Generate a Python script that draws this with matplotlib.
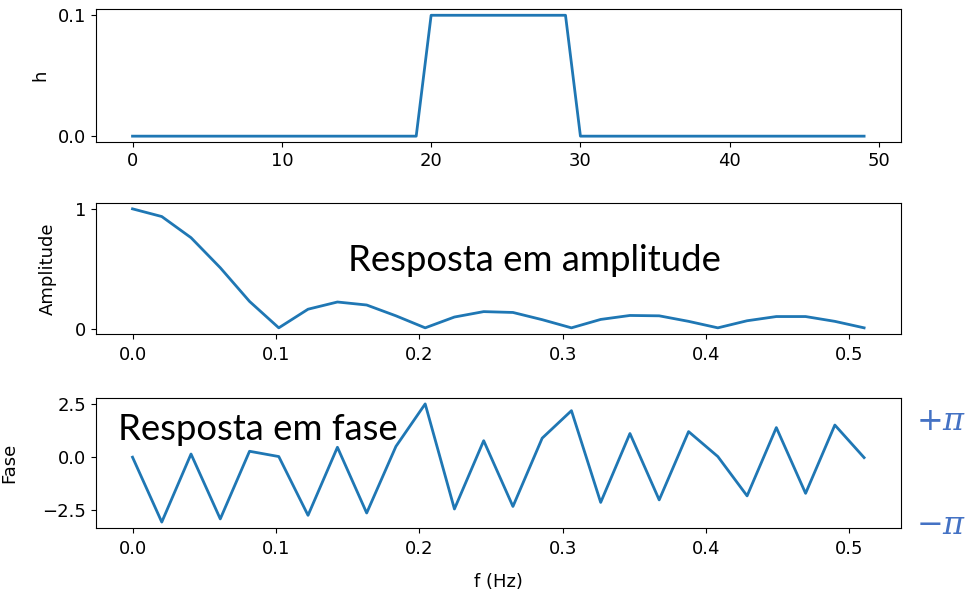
import matplotlib
matplotlib.use('Agg')
import matplotlib.pyplot as plt

# impulse response h[n]
n = list(range(50))
h = [0.0] * 20 + [0.1] * 10 + [0.0] * 20

# frequency grid (k/49, k = 0..25)
freq = [0.0, 0.0204, 0.0408, 0.0612, 0.0816, 0.1020, 0.1224, 0.1429, 0.1633,
        0.1837, 0.2041, 0.2245, 0.2449, 0.2653, 0.2857, 0.3061, 0.3265,
        0.3469, 0.3673, 0.3878, 0.4082, 0.4286, 0.4490, 0.4694, 0.4898,
        0.5102]

# amplitude response
amplitude = [1.0, 0.936, 0.76, 0.51, 0.23, 0.01, 0.165, 0.225, 0.20, 0.11,
             0.01, 0.10, 0.145, 0.138, 0.078, 0.01, 0.08, 0.113, 0.11,
             0.064, 0.01, 0.069, 0.104, 0.104, 0.064, 0.01]

# phase response
phase = [0.0, -3.07, 0.15, -2.92, 0.28, 0.03, -2.75, 0.47, -2.64, 0.51,
         2.52, -2.45, 0.78, -2.33, 0.90, 2.20, -2.14, 1.12, -2.02, 1.21,
         0.03, -1.83, 1.40, -1.71, 1.52, -0.02]

plt.rcParams['font.size'] = 13
plt.rcParams['mathtext.fontset'] = 'dejavuserif'

fig = plt.figure(figsize=(9.79, 5.95), dpi=100)
left, width = 0.098, 0.822
ax1 = fig.add_axes([left, 0.761, width, 0.2235])
ax2 = fig.add_axes([left, 0.439, width, 0.220])
ax3 = fig.add_axes([left, 0.1126, width, 0.2185])

ax1.plot(n, h, lw=2)
ax1.set_ylabel('h', labelpad=6)
ax1.set_xticks([0, 10, 20, 30, 40, 50])
ax1.set_yticks([0.0, 0.1])

ax2.plot(freq, amplitude, lw=2)
ax2.set_ylabel('Amplitude', labelpad=13)
ax2.set_yticks([0, 1])
ax2.text(0.545, 0.56, 'Resposta em amplitude', transform=ax2.transAxes,
         ha='center', va='center', fontsize=26.3, family='Lato')

ax3.plot(freq, phase, lw=2)
ax3.set_ylabel('Fase', labelpad=17)
ax3.set_xlabel('f (Hz)', labelpad=11)
ax3.set_yticks([-2.5, 0.0, 2.5])
ax3.text(0.027, 0.76, 'Resposta em fase', transform=ax3.transAxes,
         ha='left', va='center', fontsize=26.3, family='Lato')

for ax in (ax2, ax3):
    ax.set_xticks([0.0, 0.1, 0.2, 0.3, 0.4, 0.5])
    ax.tick_params(axis='x', pad=5)

# +pi / -pi marks next to the phase axis
fig.text(0.961, 1 - 421 / 595, r'$+\pi$', color='#4472C4', fontsize=23,
         ha='center', va='center')
fig.text(0.961, 1 - 525 / 595, r'$-\pi$', color='#4472C4', fontsize=23,
         ha='center', va='center')

plt.savefig('out.png', dpi=100)
